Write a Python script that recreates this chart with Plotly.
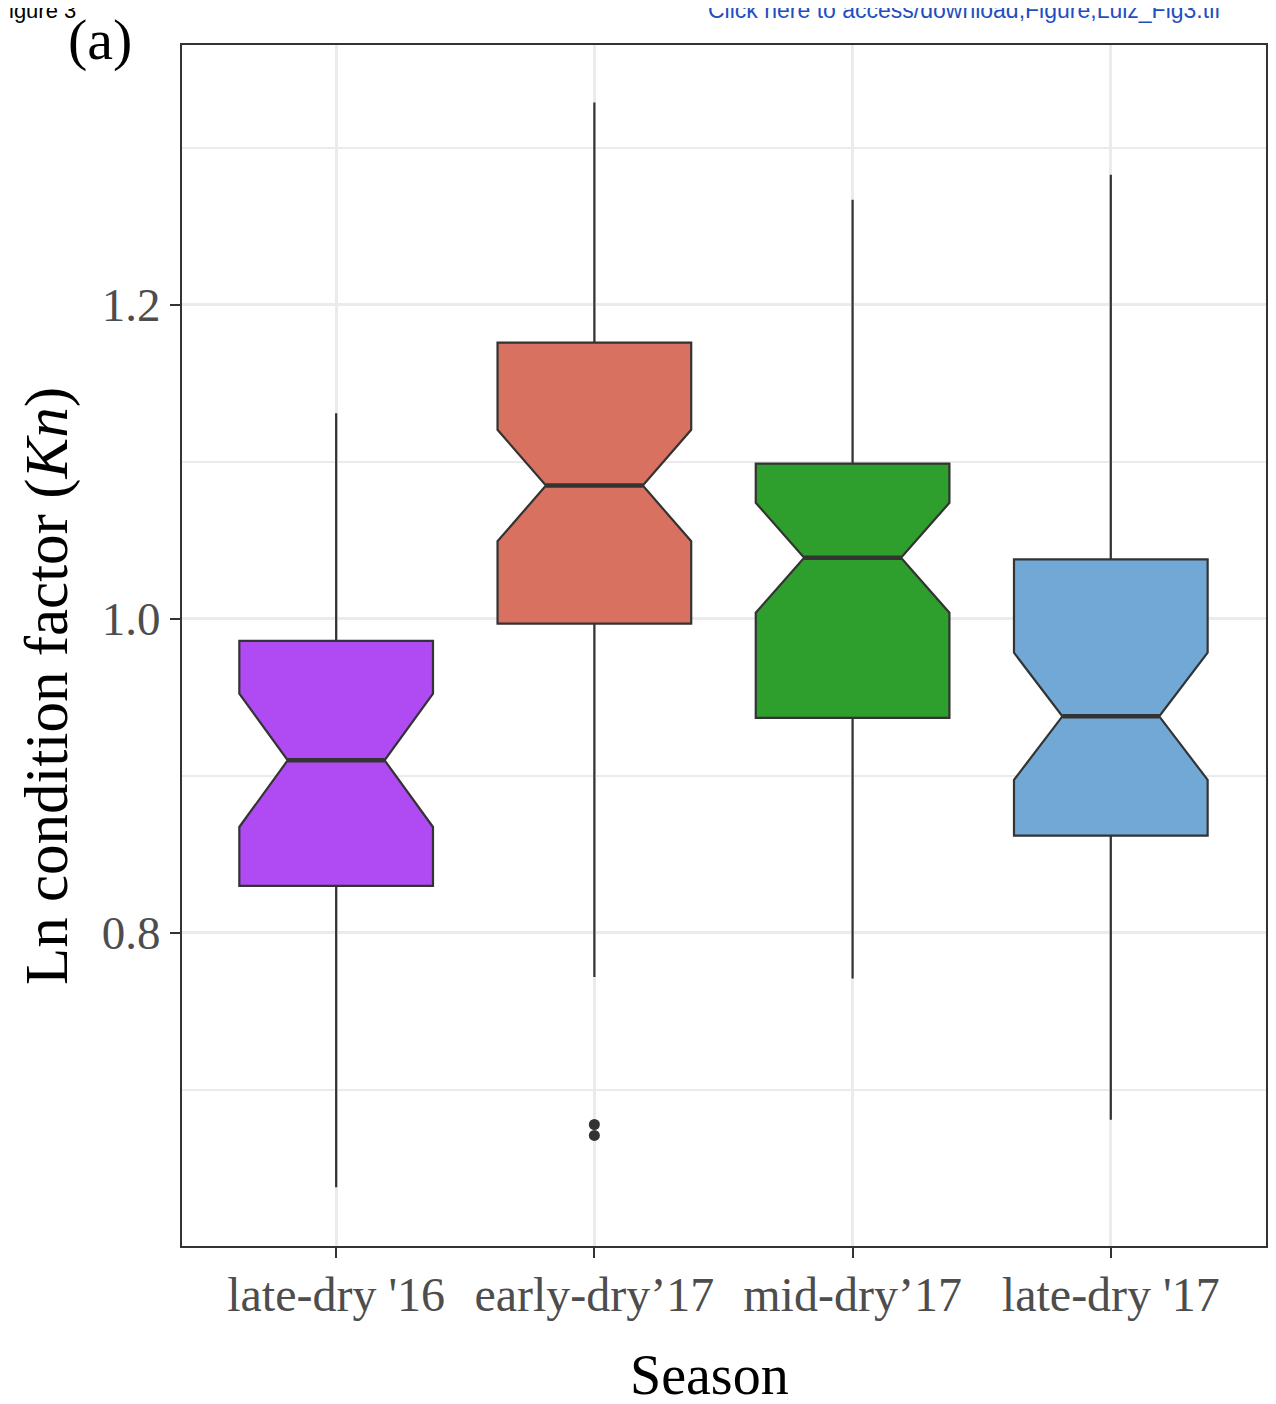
import plotly.graph_objects as go

seasons = ["late-dry '16", "early-dry\u201917", "mid-dry\u201917", "late-dry '17"]
q1 = [0.830, 0.997, 0.937, 0.862]
median = [0.910, 1.085, 1.039, 0.938]
q3 = [0.986, 1.176, 1.099, 1.038]
lower_whisker = [0.638, 0.772, 0.771, 0.681]
upper_whisker = [1.131, 1.329, 1.267, 1.283]
notch_half = [0.0425, 0.0355, 0.035, 0.0405]
outlier_season = [1, 1]
outlier_values = [0.678, 0.671]
colors = ["rgb(176,74,242)", "rgb(216,113,96)", "rgb(46,158,44)", "rgb(113,168,214)"]

BOX_W = 0.75
NOTCH_W = 0.25
LINE = "#333333"
SERIF = "Liberation Serif, Times New Roman, serif"
SANS = "Liberation Sans, Arial, sans-serif"

fig = go.Figure()
for i, s in enumerate(seasons):
    fig.add_trace(go.Box(
        x=[i], q1=[q1[i]], median=[median[i]], q3=[q3[i]],
        lowerfence=[lower_whisker[i]], upperfence=[upper_whisker[i]],
        notchspan=[notch_half[i]], notched=True, notchwidth=NOTCH_W,
        width=BOX_W, fillcolor=colors[i], line=dict(color=LINE, width=2.2),
        whiskerwidth=0, boxpoints=False, showlegend=False, name=s,
        hoverinfo="skip",
    ))
    # thicker median line (ggplot style)
    half = BOX_W * (0.5 - NOTCH_W)
    fig.add_trace(go.Scatter(
        x=[i - half, i + half], y=[median[i], median[i]], mode="lines",
        line=dict(color=LINE, width=4.5), showlegend=False, hoverinfo="skip",
    ))

fig.add_trace(go.Scatter(
    x=outlier_season, y=outlier_values, mode="markers",
    marker=dict(color=LINE, size=11), showlegend=False, hoverinfo="skip",
))

fig.update_layout(
    width=1268, height=1396,
    margin=dict(l=174, r=10, t=37, b=158, autoexpand=False),
    paper_bgcolor="white", plot_bgcolor="white",
    font=dict(family=SERIF, color="#000000"),
    xaxis=dict(
        range=[-0.597, 3.601], tickvals=list(range(len(seasons))), ticktext=seasons,
        automargin=False,
        showgrid=True, gridcolor="#EBEBEB", gridwidth=2.5, zeroline=False,
        showline=True, linecolor=LINE, linewidth=2, mirror=True,
        ticks="outside", ticklen=10, tickwidth=2, tickcolor=LINE,
        ticklabelstandoff=-5,
        tickfont=dict(family=SERIF, size=48, color="#4D4D4D"),
    ),
    yaxis=dict(
        range=[0.6006, 1.3656], tickvals=[0.8, 1.0, 1.2], ticktext=["0.8", "1.0", "1.2"],
        automargin=False,
        showgrid=True, gridcolor="#EBEBEB", gridwidth=2.5, zeroline=False,
        minor=dict(tickvals=[0.7, 0.9, 1.1, 1.3], showgrid=True, gridcolor="#EBEBEB", gridwidth=2, ticks=""),
        showline=True, linecolor=LINE, linewidth=2, mirror=True,
        ticks="outside", ticklen=10, tickwidth=2, tickcolor=LINE,
        tickfont=dict(family=SERIF, size=47, color="#4D4D4D"),
    ),
    annotations=[
        dict(text="Ln condition factor (<i>Kn</i>)", xref="paper", yref="paper", x=-0.1245, y=0.4663,
             xanchor="center", yanchor="middle", textangle=-90, showarrow=False, borderpad=0,
             font=dict(family=SERIF, size=61, color="#000000")),
        dict(text="Season", xref="paper", yref="paper", x=0.4866, y=-0.1074,
             xanchor="center", yanchor="middle", showarrow=False,
             font=dict(family=SERIF, size=56, color="#000000")),
        dict(text="(a)", xref="paper", yref="paper", x=-0.0756, y=1.0042, xanchor="center", yanchor="middle",
             showarrow=False, font=dict(family=SERIF, size=58, color="#000000")),
        dict(text="igure 3", xref="paper", yref="paper", x=-0.161, y=1.029, xanchor="left", yanchor="middle",
             showarrow=False, font=dict(family=SANS, size=22, color="#000000")),
        dict(text="Click here to access/download;Figure;Luiz_Fig3.tif", xref="paper", yref="paper",
             x=0.483, y=1.029, xanchor="left", yanchor="middle",
             showarrow=False, font=dict(family=SANS, size=23, color="#1F4FBF")),
    ],
)

fig.write_html("out.html")
